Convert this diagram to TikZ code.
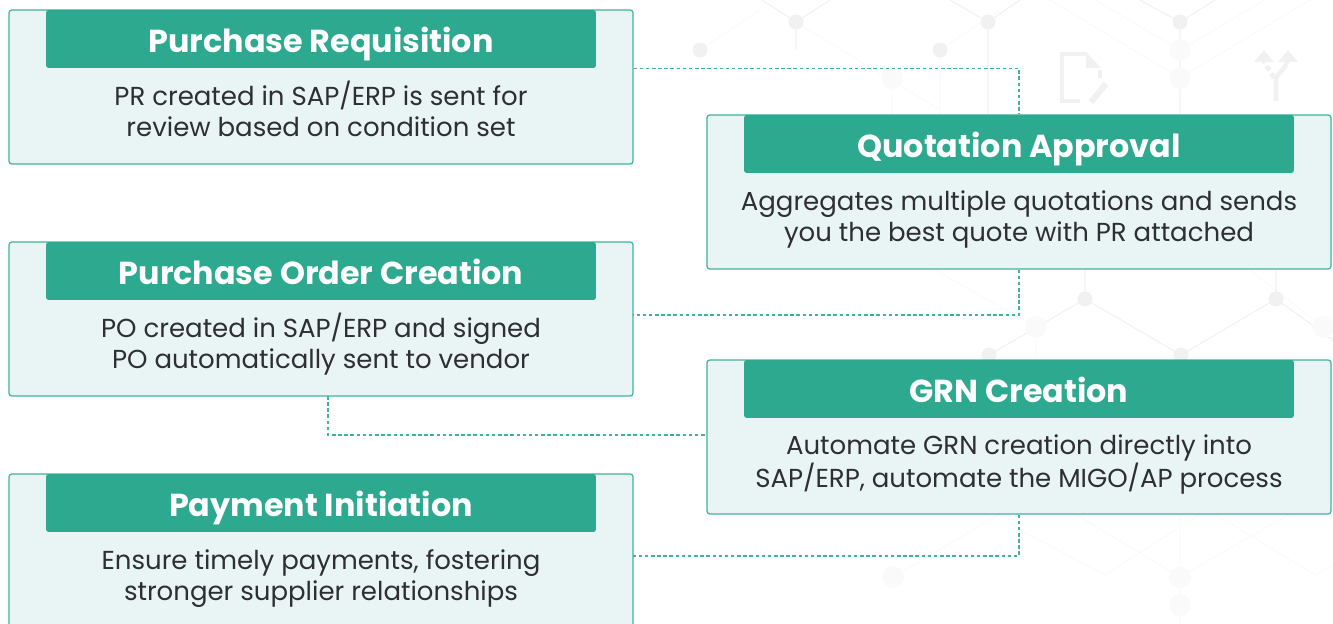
\documentclass[tikz,border=0pt]{standalone}
\usepackage{fontspec}
\setmainfont{Poppins}
\definecolor{tealdark}{HTML}{2CA98F}
\definecolor{tealline}{HTML}{3FB39B}
\definecolor{tealpale}{HTML}{E8F5F4}
\definecolor{inkgrey}{HTML}{2E2E33}
\definecolor{hexgrey}{HTML}{F1F1F1}
\definecolor{hexfaint}{HTML}{FAFAFA}
\tikzset{
	card/.style={draw=tealline,fill=tealpale,line width=0.7pt,rounded corners=1.5pt,minimum width=12.48cm,minimum height=3.08cm,inner sep=0pt},
	headbar/.style={fill=tealdark,rounded corners=1.5pt,minimum width=11cm,minimum height=1.16cm,inner sep=0pt,text=white,text height=18.5pt,text depth=2.7pt,font=\fontsize{18.1}{20}\selectfont\bfseries},
	cardtext/.style={align=center,anchor=base,inner sep=0pt,text=inkgrey,font=\fontsize{14.8}{17.6}\selectfont},
	dotlink/.style={draw=tealline,dash pattern=on 2pt off 1.5pt,line width=0.6pt},
	hexline/.style={draw=hexgrey,line width=0.6pt},
	hexthin/.style={draw=hexfaint,line width=0.6pt},
	hexdot/.style={circle,fill=hexgrey,minimum size=0.3cm,inner sep=0pt},
	hexpale/.style={circle,fill=hexfaint,minimum size=0.44cm,inner sep=0pt},
}
\begin{document}
\begin{tikzpicture}[x=0.02cm,y=-0.02cm]
		\useasboundingbox (0,0) rectangle (1333,624);
		\clip (0,0) rectangle (1333,624);

		% faint network behind the cards
		\draw[hexthin] (700,50) -- (760,10) (796,22) -- (940,110) (940,50) -- (1000,10) (1180,50) -- (1095,0) (1180,50) -- (1265,0) (1180,78) -- (1050,0) (1180,78) -- (1310,0) (892,78) -- (892,115) (940,50) -- (940,115) (1036,327) -- (935,270) (1036,327) -- (1036,360) (1323,327) -- (1250,270) (893,577) -- (1000,514) (1180,577) -- (1075,514) (1180,577) -- (1290,514) (1180,514) -- (1180,624) (1020,530) -- (1105,575) -- (1200,514) (1215,514) -- (1315,575) -- (1333,565);
		\draw[hexline] (762,0) -- (796,22) -- (830,0) (796,22) -- (796,50) (950,0) -- (988,22) -- (1020,0) (988,22) -- (988,115) (1140,0) -- (1180,22) -- (1215,0) (1180,22) -- (1180,115) (1085,269) -- (1085,299) (1276,269) -- (1276,299) (989,360) -- (989,355) -- (1085,299) -- (1181,355) -- (1276,299) -- (1333,340);
		\foreach \ax/\ay in {892/78,1180/50,1180/78,1036/327,1323/327,893/577,1180/577,1180/605}
			\node[hexpale] at (\ax,\ay) {};
		\foreach \ax/\ay in {796/22,988/22,1180/22,700/50,940/50,1085/299,1276/299,989/355,1181/355}
			\node[hexdot] at (\ax,\ay) {};

		% the two icons
		\draw[hexline,line width=2.6pt] (1087,54) -- (1062,54) -- (1062,101) -- (1080,101) (1100,78) -- (1100,70);
		\fill[hexgrey] (1086,52) -- (1101,68) -- (1086,68) -- cycle;
		\draw[hexline,line width=3.4pt] (1106,84) -- (1091,102);
		\draw[hexline,line width=2.6pt] (1276,101) -- (1276,80) .. controls (1276,72) and (1288,70) .. (1288,56);
		\draw[hexline,line width=2.6pt,dash pattern=on 3pt off 2pt] (1274,78) -- (1263,60);
		\fill[hexgrey] (1288,50) -- (1298,62) -- (1278,62) -- cycle (1264,50) -- (1254,62) -- (1274,62) -- cycle;

		\draw (321,87) node[card] (prcard) {};
		\draw (321,39) node[headbar] (prhead) {Purchase Requisition};
		\draw (321,136.5) node[cardtext] (prtext) {PR created in SAP/ERP is sent for\\review based on condition set};

		\draw (1019,192) node[card] (qacard) {};
		\draw (1019,144) node[headbar] (qahead) {Quotation Approval};
		\draw (1019,241.5) node[cardtext] (qatext) {Aggregates multiple quotations and sends\\you the best quote with PR attached};

		\draw (321,319) node[card] (pocard) {};
		\draw (321,271) node[headbar] (pohead) {Purchase Order Creation};
		\draw (321,368.5) node[cardtext] (potext) {PO created in SAP/ERP and signed\\PO automatically sent to vendor};

		\draw (1019,437) node[card] (grcard) {};
		\draw (1019,389) node[headbar] (grhead) {GRN Creation};
		\draw (1019,487.5) node[cardtext] (grtext) {Automate GRN creation directly into\\SAP/ERP, automate the MIGO/AP process};

		\draw (321,551) node[card] (paycard) {};
		\draw (321,503) node[headbar] (payhead) {Payment Initiation};
		\draw (321,600.5) node[cardtext] (paytext) {Ensure timely payments, fostering\\stronger supplier relationships};

		\coordinate (poin) at (633,315);
		\coordinate (poout) at (328,396);
		\coordinate (grin) at (707,435);
		\coordinate (payin) at (633,556);

		\draw[dotlink] (prcard.east |- prhead.south) -| (qacard.north);
		\draw[dotlink] (qacard.south) |- (poin);
		\draw[dotlink] (poout) |- (grin);
		\draw[dotlink] (grcard.south) |- (payin);
\end{tikzpicture}
\end{document}
